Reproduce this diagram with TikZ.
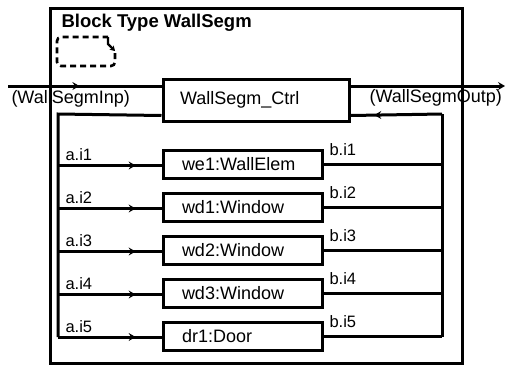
\documentclass[tikz,border=0pt]{standalone}
\usepackage{fontspec}
\setmainfont{Liberation Sans}
\usetikzlibrary{arrows.meta,decorations.markings}
\begin{document}
\begin{tikzpicture}[x=1pt,y=-1pt,line width=3pt,
  tipst/.tip={Stealth[length=7pt,width=8pt,inset=2.5pt]},
  midarrow/.style={postaction={decorate},decoration={markings,mark=at position #1 with {\arrow{tipst}}}},
  ctrlbox/.style={draw,minimum width=186pt,minimum height=42pt,text width=152pt,inner xsep=17pt,align=left,font=\fontsize{18}{20}\selectfont},
  partbox/.style={draw,minimum width=159pt,minimum height=28pt,text width=121pt,inner xsep=19pt,inner ysep=0pt,align=left,font=\fontsize{18}{20}\selectfont},
  portlabel/.style={anchor=base west,inner sep=0pt,font=\fontsize{16.5}{18}\selectfont},
  iolabel/.style={anchor=base west,inner sep=0pt,font=\fontsize{18}{20}\selectfont},
  outerbox/.style={draw,minimum width=412pt,minimum height=355pt}]
\useasboundingbox (0,0) rectangle (505,365);
% outer block
\node[outerbox] (block) at (256,185.5) {};
\node[anchor=base west,inner sep=0pt,font=\bfseries\fontsize{18.5}{20}\selectfont] (title) at (60,27) {Block Type WallSegm};
% state-machine icon
\draw[dashed,dash pattern=on 6pt off 4pt,line width=2.6pt,rounded corners=4pt] (115,53) -- (115,66) -- (57,66) -- (57,37) -- (108,37);
\draw[line width=2.4pt,-{Stealth[length=5pt,width=6pt]}] (108,37) -- (108,44) -- (115,51);
% controller
\node[ctrlbox] (ctrl) at (256,100) {WallSegm\_Ctrl};
% parts
\node[partbox] (p1) at (242.5,164) {we1:WallElem};
\node[partbox] (p2) at (242.5,207) {wd1:Window};
\node[partbox] (p3) at (242.5,250) {wd2:Window};
\node[partbox] (p4) at (242.5,293) {wd3:Window};
\node[partbox] (p5) at (242.5,336.5) {dr1:Door};
% input / output
\coordinate (inp) at (8,86);
\coordinate (outp) at (505,86);
\draw[midarrow=0.465] (inp) -- (inp -| ctrl.west);
\draw[-tipst] (outp -| ctrl.east) -- (outp);
\node[iolabel] (inlab) at (10,103.5) {(WallSegmInp)};
\node[iolabel] (outlab) at (368,102.5) {(WallSegmOutp)};
% left bus
\coordinate (ltop) at (58,114);
\coordinate (l1) at (58,165.5);
\coordinate (l2) at (58,208.5);
\coordinate (l3) at (58,251.5);
\coordinate (l4) at (58,294.5);
\coordinate (l5) at (58,337);
\draw ([yshift=7pt]ctrl.south west) -- (ltop) -- (l5);
\foreach \i in {1,...,5} {\draw[midarrow=0.75] (l\i) -- (l\i -| p\i.west);}
% right bus
\coordinate (rtop) at (442,114);
\coordinate (rbot) at (442,336.5);
\draw (rtop) -- (rbot);
\draw[midarrow=0.74] (rtop) -- ([yshift=7pt]ctrl.south east);
\foreach \i in {1,...,5} {\draw (p\i.east) -- (p\i.east -| rtop);}
% port labels
\node[portlabel] (a1) at (64,160.5) {a.i1};
\node[portlabel] (a2) at (64,203.5) {a.i2};
\node[portlabel] (a3) at (64,246.5) {a.i3};
\node[portlabel] (a4) at (64,289.5) {a.i4};
\node[portlabel] (a5) at (64,332) {a.i5};
\node[portlabel] (b1) at (328,155) {b.i1};
\node[portlabel] (b2) at (328,198) {b.i2};
\node[portlabel] (b3) at (328,241) {b.i3};
\node[portlabel] (b4) at (328,284) {b.i4};
\node[portlabel] (b5) at (328,327) {b.i5};
\end{tikzpicture}
\end{document}
